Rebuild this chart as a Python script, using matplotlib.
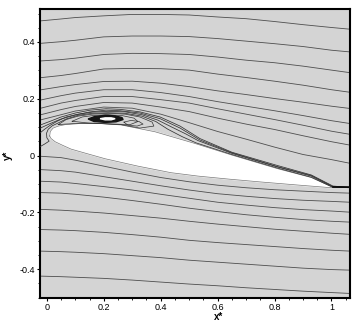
import numpy as np
import matplotlib.pyplot as plt
from matplotlib.ticker import MultipleLocator

plt.rcParams['font.family'] = ['Liberation Sans', 'DejaVu Sans']

# x stations for the outer streamlines
xs = [-0.025, 0.05, 0.1, 0.2, 0.3, 0.4, 0.5, 0.6, 0.7, 0.8, 0.9, 1.0, 1.065]

# streamlines above the wing
line_a = [0.474, 0.481, 0.486, 0.492, 0.497, 0.497, 0.495, 0.488, 0.482, 0.472, 0.461, 0.451, 0.445]
line_b = [0.395, 0.401, 0.406, 0.418, 0.421, 0.421, 0.419, 0.412, 0.403, 0.394, 0.384, 0.371, 0.365]
line_c = [0.333, 0.338, 0.343, 0.356, 0.360, 0.359, 0.356, 0.347, 0.336, 0.327, 0.315, 0.301, 0.292]
line_d = [0.274, 0.282, 0.289, 0.305, 0.307, 0.306, 0.301, 0.287, 0.275, 0.262, 0.248, 0.232, 0.223]
line_e = [0.231, 0.243, 0.250, 0.261, 0.262, 0.255, 0.243, 0.228, 0.215, 0.201, 0.188, 0.174, 0.166]
line_f = [0.195, 0.211, 0.220, 0.232, 0.232, 0.222, 0.208, 0.190, 0.174, 0.158, 0.141, 0.123, 0.113]
line_g = [0.166, 0.185, 0.194, 0.208, 0.208, 0.197, 0.185, 0.165, 0.146, 0.127, 0.107, 0.086, 0.075]
line_h = [0.143, 0.162, 0.173, 0.187, 0.185, 0.171, 0.155, 0.132, 0.111, 0.092, 0.070, 0.049, 0.037]
line_i = [0.125, 0.144, 0.157, 0.171, 0.167, 0.146, 0.116, 0.085, 0.058, 0.030, 0.004, -0.014, -0.027]

# streamlines below the wing
low_1 = [-0.002, -0.007, -0.016, -0.037, -0.058, -0.077, -0.092, -0.104, -0.113, -0.120, -0.125, -0.130, -0.132]
low_2 = [-0.049, -0.053, -0.058, -0.074, -0.090, -0.106, -0.121, -0.134, -0.143, -0.151, -0.157, -0.161, -0.164]
low_3 = [-0.090, -0.093, -0.098, -0.109, -0.121, -0.136, -0.150, -0.164, -0.174, -0.183, -0.190, -0.195, -0.199]
low_4 = [-0.130, -0.132, -0.136, -0.146, -0.158, -0.171, -0.185, -0.197, -0.208, -0.217, -0.225, -0.231, -0.234]
low_5 = [-0.189, -0.192, -0.195, -0.202, -0.211, -0.220, -0.231, -0.241, -0.250, -0.259, -0.266, -0.273, -0.277]
low_6 = [-0.260, -0.262, -0.264, -0.270, -0.278, -0.287, -0.298, -0.306, -0.313, -0.320, -0.327, -0.333, -0.336]
low_7 = [-0.336, -0.338, -0.340, -0.345, -0.352, -0.359, -0.368, -0.375, -0.382, -0.389, -0.396, -0.401, -0.403]
low_8 = [-0.424, -0.426, -0.428, -0.432, -0.438, -0.445, -0.452, -0.458, -0.465, -0.471, -0.477, -0.482, -0.485]

# streamlines that pass over the bubble and stick to the upper surface
near_x = [-0.025, 0.012, 0.05, 0.1, 0.152, 0.208, 0.257, 0.327, 0.398, 0.468, 0.538, 0.65, 0.811, 0.929, 1.005, 1.065]
near_j = [0.107, 0.121, 0.136, 0.150, 0.160, 0.165, 0.163, 0.154, 0.136, 0.104, 0.060, 0.012, -0.035, -0.068, -0.107, -0.112]
near_k = [0.096, 0.113, 0.129, 0.143, 0.154, 0.160, 0.158, 0.150, 0.130, 0.097, 0.055, 0.010, -0.039, -0.070, -0.109, -0.112]
near_m_x = [-0.025, -0.009, 0.012, 0.036, 0.068, 0.110, 0.159, 0.215, 0.275, 0.334, 0.390, 0.440, 0.489, 0.531, 0.650, 0.811, 0.929, 1.005, 1.065]
near_m_y = [0.079, 0.092, 0.107, 0.121, 0.136, 0.146, 0.153, 0.156, 0.154, 0.144, 0.125, 0.100, 0.076, 0.053, 0.008, -0.040, -0.072, -0.110, -0.112]
divide_x = [-0.025, -0.009, 0.008, 0.0, -0.001, 0.005, 0.019, 0.040, 0.068, 0.110, 0.159, 0.215, 0.275, 0.334, 0.383, 0.425, 0.475, 0.524, 0.650, 0.811, 0.929, 1.004, 1.065]
divide_y = [0.031, 0.040, 0.051, 0.063, 0.079, 0.093, 0.105, 0.115, 0.129, 0.142, 0.149, 0.151, 0.149, 0.139, 0.120, 0.093, 0.067, 0.045, 0.004, -0.044, -0.076, -0.111, -0.113]
wake_x = [1.006, 1.065]
wake_y = [-0.112, -0.112]

# wing section (upper surface LE->TE, then lower surface TE->LE)
foil_x = [0.010, 0.012, 0.022, 0.040, 0.064, 0.117, 0.169, 0.261, 0.380, 0.520, 0.650, 0.811, 0.929, 1.006,
          0.987, 0.888, 0.755, 0.643, 0.531, 0.436, 0.320, 0.205, 0.134, 0.085, 0.054, 0.029, 0.015]
foil_y = [0.069, 0.085, 0.097, 0.104, 0.109, 0.113, 0.114, 0.108, 0.084, 0.043, 0.002, -0.046, -0.077, -0.112,
          -0.112, -0.104, -0.093, -0.083, -0.072, -0.060, -0.037, -0.011, 0.009, 0.023, 0.037, 0.049, 0.060]

# separation bubble loops
loop1_x = [0.040, 0.068, 0.110, 0.159, 0.215, 0.275, 0.327, 0.370, 0.376, 0.327, 0.261, 0.187, 0.117, 0.064, 0.040]
loop1_y = [0.109, 0.127, 0.139, 0.146, 0.149, 0.146, 0.136, 0.118, 0.104, 0.097, 0.109, 0.113, 0.114, 0.111, 0.109]
loop2_x = [0.089, 0.124, 0.169, 0.215, 0.264, 0.306, 0.320, 0.292, 0.240, 0.187, 0.134, 0.089]
loop2_y = [0.121, 0.136, 0.142, 0.144, 0.141, 0.132, 0.120, 0.109, 0.111, 0.113, 0.116, 0.121]
core_x = [0.145, 0.169, 0.205, 0.240, 0.264, 0.268, 0.243, 0.205, 0.166, 0.145]
core_y = [0.129, 0.138, 0.142, 0.140, 0.134, 0.127, 0.119, 0.117, 0.120, 0.129]
eye_x = [0.187, 0.205, 0.226, 0.240, 0.226, 0.205, 0.187]
eye_y = [0.130, 0.133, 0.133, 0.130, 0.126, 0.126, 0.130]
loop3_x = [0.271, 0.296, 0.324, 0.338, 0.317, 0.285, 0.271]
loop3_y = [0.118, 0.124, 0.120, 0.111, 0.104, 0.107, 0.118]

xticks = [0, 0.2, 0.4, 0.6, 0.8, 1.0]
xtick_labels = ['0', '0.2', '0.4', '0.6', '0.8', '1']
yticks = [-0.4, -0.2, 0, 0.2, 0.4]
ytick_labels = ['-0.4', '-0.2', '0', '0.2', '0.4']

fig = plt.figure(figsize=(3.61, 3.21), dpi=100)
ax = fig.add_axes([0.110, 0.0726, 0.8595, 0.8984])
ax.set_facecolor('#d4d4d4')

gray = '#4e4e4e'
for ys in [line_a, line_b, line_c, line_d, line_e, line_f, line_g, line_h, line_i,
           low_1, low_2, low_3, low_4, low_5, low_6, low_7, low_8]:
    ax.plot(xs, ys, color=gray, lw=0.6, zorder=2)

ax.fill(foil_x, foil_y, color='white', zorder=3)
ax.plot(foil_x + foil_x[:1], foil_y + foil_y[:1], color='#777777', lw=0.5, zorder=3)

dark = '#333333'
ax.plot(near_x, near_j, color=dark, lw=0.55, zorder=4)
ax.plot(near_x, near_k, color=dark, lw=0.55, zorder=4)
ax.plot(near_m_x, near_m_y, color=dark, lw=0.55, zorder=4)
ax.plot(divide_x, divide_y, color=dark, lw=0.55, zorder=4)
ax.plot(wake_x, wake_y, color='black', lw=1.1, zorder=4)

ax.plot(loop1_x, loop1_y, color=dark, lw=0.5, zorder=5)
ax.plot(loop2_x, loop2_y, color=dark, lw=0.5, zorder=5)
ax.plot(loop3_x, loop3_y, color=dark, lw=0.5, zorder=5)
ax.fill(core_x, core_y, color='#151515', zorder=5)
ax.fill(eye_x, eye_y, color='white', zorder=6)

ax.set_xlim(-0.025, 1.065)
ax.set_ylim(-0.50, 0.515)

ax.set_xticks(xticks, xtick_labels)
ax.set_yticks(yticks, ytick_labels)
ax.xaxis.set_minor_locator(MultipleLocator(0.05))
ax.yaxis.set_minor_locator(MultipleLocator(0.05))
ax.tick_params(which='major', direction='out', length=2.5, width=0.8, labelsize=6.5, pad=1)
ax.tick_params(which='minor', direction='out', length=1.5, width=0.6)

for s in ax.spines.values():
    s.set_linewidth(1.5)

ax.set_xlabel('x*', fontsize=7, fontweight='bold')
ax.xaxis.set_label_coords(0.575, -0.05)
ax.set_ylabel('y*', fontsize=7, fontweight='bold')
ax.yaxis.set_label_coords(-0.085, 0.495)

fig.savefig('out.png', dpi=100)
